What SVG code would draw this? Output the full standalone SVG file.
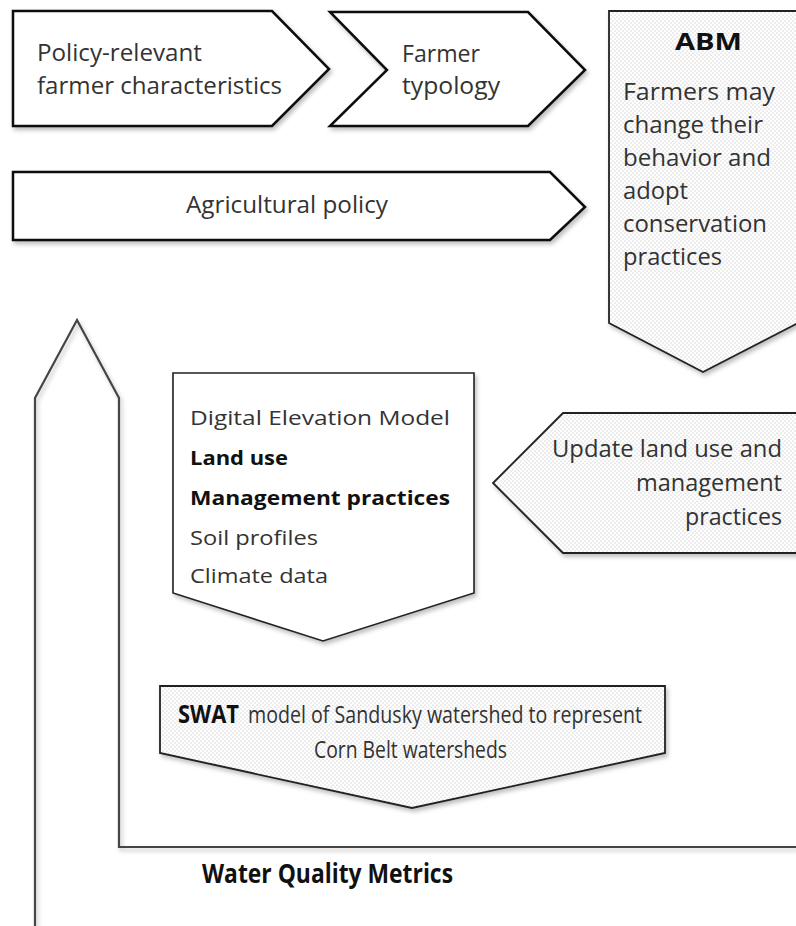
<svg xmlns="http://www.w3.org/2000/svg" width="796" height="926" viewBox="0 0 796 926">
<defs>
<pattern id="dots" width="4" height="4" patternUnits="userSpaceOnUse">
<rect width="4" height="4" fill="#ffffff"/>
<circle cx="1" cy="1" r="0.6" fill="#b0b0b0"/>
<circle cx="3" cy="3" r="0.6" fill="#b0b0b0"/>
</pattern>
<filter id="sh" x="-10%" y="-10%" width="130%" height="130%">
<feDropShadow dx="2" dy="3" stdDeviation="2" flood-color="#000" flood-opacity="0.25"/>
</filter>
</defs>
<style>
.plain{fill:#ffffff;stroke:#111;stroke-width:2.5;stroke-linejoin:miter;filter:url(#sh)}
.dot{fill:url(#dots);stroke:#222;stroke-width:1.8;filter:url(#sh)}
.t{font-family:"Open Sans","Liberation Sans",sans-serif;fill:#333;}
.b{font-family:"Open Sans","Liberation Sans",sans-serif;font-weight:bold;fill:#111;}
</style>
<rect width="796" height="926" fill="#ffffff"/>

<g id="connectors">
<path d="M35,926 L35,398 L77,320 L119,398 L119,847 L797,847" fill="none" stroke="#444" stroke-width="2.2" filter="url(#sh)"/>
</g>

<g id="policy-relevant">
<polygon class="plain" points="13,11 272,11 329,69 272,126 13,126"/>
<text class="t" x="37" y="61" font-size="24" textLength="165" lengthAdjust="spacingAndGlyphs">Policy-relevant</text>
<text class="t" x="37" y="94" font-size="24" textLength="245" lengthAdjust="spacingAndGlyphs">farmer characteristics</text>
</g>

<g id="farmer-typology">
<polygon class="plain" points="330,12 528,12 585,70 528,126 330,126 387,70"/>
<text class="t" x="402" y="62" font-size="24" textLength="78" lengthAdjust="spacingAndGlyphs">Farmer</text>
<text class="t" x="402" y="94" font-size="24" textLength="98" lengthAdjust="spacingAndGlyphs">typology</text>
</g>

<g id="agricultural-policy">
<polygon class="plain" points="13,172 550,172 585,207 550,240 13,240"/>
<text class="t" x="186" y="213" font-size="23" textLength="202" lengthAdjust="spacingAndGlyphs">Agricultural policy</text>
</g>

<g id="abm">
<polygon class="dot" points="609,11 798,11 798,323 703,372 609,323"/>
<text class="b" x="675" y="50" font-size="24" textLength="67" lengthAdjust="spacingAndGlyphs">ABM</text>
<text class="t" x="623" y="100" font-size="24" textLength="152" lengthAdjust="spacingAndGlyphs">Farmers may</text>
<text class="t" x="623" y="133" font-size="24" textLength="140" lengthAdjust="spacingAndGlyphs">change their</text>
<text class="t" x="623" y="166" font-size="24" textLength="148" lengthAdjust="spacingAndGlyphs">behavior and</text>
<text class="t" x="623" y="199" font-size="24" textLength="65" lengthAdjust="spacingAndGlyphs">adopt</text>
<text class="t" x="623" y="232" font-size="24" textLength="144" lengthAdjust="spacingAndGlyphs">conservation</text>
<text class="t" x="623" y="265" font-size="24" textLength="99" lengthAdjust="spacingAndGlyphs">practices</text>
</g>

<g id="swat-inputs">
<polygon points="173,373 474,373 474,593 323,641 173,593" fill="#ffffff" stroke="#222" stroke-width="1.6" filter="url(#sh)"/>
<text class="t" x="190" y="425" font-size="20" textLength="260" lengthAdjust="spacingAndGlyphs">Digital Elevation Model</text>
<text class="b" x="190" y="465" font-size="20" textLength="98" lengthAdjust="spacingAndGlyphs">Land use</text>
<text class="b" x="190" y="505" font-size="20" textLength="260" lengthAdjust="spacingAndGlyphs">Management practices</text>
<text class="t" x="190" y="545" font-size="20" textLength="128" lengthAdjust="spacingAndGlyphs">Soil profiles</text>
<text class="t" x="190" y="583" font-size="20" textLength="138" lengthAdjust="spacingAndGlyphs">Climate data</text>
</g>

<g id="update">
<polygon class="dot" points="563,413 798,413 798,553 563,553 493,483"/>
<text class="t" x="552" y="457" font-size="23" textLength="230" lengthAdjust="spacingAndGlyphs">Update land use and</text>
<text class="t" x="636" y="491" font-size="23" textLength="146" lengthAdjust="spacingAndGlyphs">management</text>
<text class="t" x="685" y="525" font-size="23" textLength="97" lengthAdjust="spacingAndGlyphs">practices</text>
</g>

<g id="swat">
<polygon class="dot" points="160,686 665,686 665,753 412,808 160,753"/>
<text class="b" x="178" y="723" font-size="25" textLength="61" lengthAdjust="spacingAndGlyphs">SWAT</text>
<text class="t" x="248" y="723" font-size="24" textLength="394" lengthAdjust="spacingAndGlyphs">model of Sandusky watershed to represent</text>
<text class="t" x="314" y="758" font-size="24" textLength="193" lengthAdjust="spacingAndGlyphs">Corn Belt watersheds</text>
</g>

<g id="water-quality">
<text class="b" x="202" y="883" font-size="26" textLength="251" lengthAdjust="spacingAndGlyphs">Water Quality Metrics</text>
</g>
</svg>
